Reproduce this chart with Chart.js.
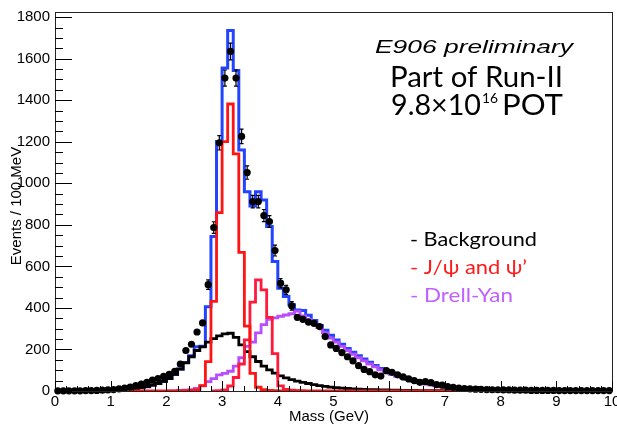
<!DOCTYPE html>
<html>
<head>
<meta charset="utf-8">
<script src="https://cdn.jsdelivr.net/npm/chart.js@4.4.1/dist/chart.umd.min.js"></script>
<style>
  html, body { margin: 0; padding: 0; background: #fff; }
</style>
</head>
<body>
<canvas id="mycanvas" width="617" height="426"></canvas>
<script>
// 100 MeV bins, 0 - 10 GeV; index i is the bin [i*0.1, (i+1)*0.1)
var binWidth = 0.1;
var massTicks = [0, 1, 2, 3, 4, 5, 6, 7, 8, 9, 10];
var eventTicks = [0, 200, 400, 600, 800, 1000, 1200, 1400, 1600, 1800];

var dataCounts = [
  1, 1, 1, 1, 1, 2, 2, 3, 4, 5,
  7, 10, 14, 19, 26, 33, 42, 52, 60, 70,
  80, 95, 130, 195, 225, 284, 328, 512, 787, 1195,
  1507, 1635, 1507, 1226, 1052, 912, 912, 845, 816, 676,
  519, 487, 410, 355, 345, 332, 326, 310, 262, 222,
  205, 185, 165, 145, 122, 104, 93, 78, 72, 98,
  90, 78, 68, 58, 50, 42, 45, 40, 31, 28,
  21, 17, 14, 12, 10, 9, 8, 7, 6, 6,
  5, 5, 4, 4, 4, 3, 3, 3, 3, 3,
  2, 2, 2, 2, 2, 2, 2, 2, 2, 2
];

var totalFit = [
  null, null, null, null, null, 1, 1, 2, 2, 3,
  4, 5, 7, 9, 12, 16, 21, 28, 36, 46,
  60, 80, 106, 137, 170, 213, 215, 406, 744, 1201,
  1555, 1736, 1543, 1161, 960, 891, 960, 920, 792, 623,
  495, 455, 415, 390, 388, 365, 340, 315, 292, 268,
  245, 225, 205, 187, 170, 154, 138, 123, 108, 96,
  85, 75, 66, 58, 51, 44, 38, 32, 27, 23,
  19, 16, 13, 11, 9, 8, 7, 6, 5, 4,
  3, 3, 3, 2, 2, 2, 2, 2, 2, 1,
  1, 1, 1, 1, 1, 1, 1, 1, 1, 1
];

var background = [
  null, null, null, null, null, 1, 1, 2, 2, 3,
  4, 5, 7, 9, 12, 16, 21, 28, 36, 46,
  60, 80, 105, 135, 165, 195, 212, 235, 252, 265,
  275, 278, 258, 222, 190, 165, 142, 120, 102, 86,
  73, 63, 55, 48, 42, 36, 31, 26, 22, 19,
  16, 14, 12, 10, 9, 8, 7, 6, 5, 5,
  4, 4, 3, 3, 3, 2, 2, 2, 2, 2,
  1, 1, 1, 1, 1, 1, 1, 1, 1, 1,
  1, 1, 1, 1, 1, 1, 1, 1, 1, 1,
  1, 1, 1, 1, 1, 1, 1, 1, 1, 1
];

var jpsi = [
  null, null, null, null, null, 1, 1, 1, 1, 1,
  1, 1, 1, 1, 1, 1, 1, 1, 1, 1,
  1, 1, 2, 2, 3, 5, 26, 141, 432, 859,
  1201, 1382, 1142, 668, 312, 85, 18, 6, 3, 2,
  1, 1, 1, 1, 1, 1, 1, 1, 1, 1,
  1, 1, 1, 1, 1, 1, 1, 1, 1, 1,
  1, 1, 1, 1, 1, 1, 1, 1, 1, 1,
  1, 1, 1, 1, 1, 1, 1, 1, 1, 1,
  1, 1, 1, 1, 1, 1, 1, 1, 1, 1,
  1, 1, 1, 1, 1, 1, 1, 1, 1, 1
];

var psiPrime = [
  null, null, null, null, null, null, null, null, null, null,
  null, null, null, null, null, null, null, null, null, null,
  null, null, null, null, null, null, null, null, 1, 2,
  5, 24, 65, 130, 246, 428, 535, 487, 355, 180,
  25, 8, 4, 2, 1, null, null, null, null, null,
  null, null, null, null, null, null, null, null, null, null,
  null, null, null, null, null, null, null, null, null, null,
  null, null, null, null, null, null, null, null, null, null,
  null, null, null, null, null, null, null, null, null, null,
  null, null, null, null, null, null, null, null, null, null
];

var drellYan = [
  null, null, null, null, null, null, null, null, null, null,
  null, null, null, null, null, null, null, null, null, null,
  0, 1, 2, 4, 7, 12, 25, 45, 60, 78,
  85, 95, 120, 160, 215, 235, 280, 320, 345, 352,
  360, 366, 372, 385, 362, 345, 325, 305, 280, 255,
  235, 215, 195, 177, 160, 145, 130, 116, 102, 90,
  80, 71, 63, 55, 48, 41, 35, 30, 25, 21,
  17, 14, 12, 10, 8, 7, 6, 5, 4, 3,
  3, 2, 2, 1, null, null, null, null, null, null,
  null, null, null, null, null, null, null, null, null, null
];

// histogram -> step points at bin low edges, plus the closing edge
function histPoints(vals) {
  var pts = [], last = -1;
  for (var i = 0; i < vals.length; i++) {
    pts.push({x: i * binWidth, y: vals[i]});
    if (vals[i] != null) last = i;
  }
  if (last >= 0) pts.splice(last + 1, 0, {x: (last + 1) * binWidth, y: vals[last]});
  return pts;
}

function centerPoints(vals) {
  var pts = [];
  for (var i = 0; i < vals.length; i++) {
    pts.push({x: (i + 0.5) * binWidth, y: vals[i]});
  }
  return pts;
}

function histSet(label, vals, color, width) {
  return {
    label: label,
    data: histPoints(vals),
    borderColor: color,
    borderWidth: width,
    stepped: 'before',
    fill: false,
    pointRadius: 0,
    borderJoinStyle: 'miter',
    spanGaps: false
  };
}

function fitText(ctx, txt, x, y, w) {
  var m = ctx.measureText(txt).width;
  ctx.save();
  ctx.translate(x, y);
  ctx.scale(w / m, 1);
  ctx.fillText(txt, 0, 0);
  ctx.restore();
}

var errBars = {
  id: 'errBars',
  afterDatasetsDraw: function(chart) {
    var ctx = chart.ctx, ys = chart.scales.y;
    var meta = chart.getDatasetMeta(0);
    ctx.save();
    ctx.strokeStyle = '#000';
    ctx.lineWidth = 1.2;
    ctx.beginPath();
    meta.data.forEach(function(pt, i) {
      var v = dataCounts[i];
      if (v == null) return;
      var e = Math.sqrt(v);
      var y1 = ys.getPixelForValue(v + e), y2 = ys.getPixelForValue(v - e);
      if (y2 - y1 < 8) return;
      ctx.moveTo(pt.x, y1); ctx.lineTo(pt.x, y2);
      ctx.moveTo(pt.x - 2, y1); ctx.lineTo(pt.x + 2, y1);
      ctx.moveTo(pt.x - 2, y2); ctx.lineTo(pt.x + 2, y2);
    });
    ctx.stroke();
    ctx.restore();
  }
};

var rootFrame = {
  id: 'rootFrame',
  afterDraw: function(chart) {
    var ctx = chart.ctx, a = chart.chartArea;
    var xs = chart.scales.x, ys = chart.scales.y;
    ctx.save();
    ctx.strokeStyle = '#222';
    ctx.lineWidth = 1;
    ctx.strokeRect(a.left + 0.5, a.top + 0.5, a.right - a.left, a.bottom - a.top);

    // inward ticks, ROOT style
    ctx.strokeStyle = '#000';
    ctx.beginPath();
    for (var v = 0; v <= ys.max; v += 50) {
      var py = Math.round(ys.getPixelForValue(v)) + 0.5;
      var len = (v % 200 === 0) ? 17 : 8;
      ctx.moveTo(a.left, py); ctx.lineTo(a.left + len, py);
    }
    for (var k = 0; k <= 50; k++) {
      var px = Math.round(xs.getPixelForValue(k * 0.2)) + 0.5;
      var l = (k % 5 === 0) ? 10 : 5;
      ctx.moveTo(px, a.bottom); ctx.lineTo(px, a.bottom - l);
    }
    ctx.stroke();

    // axis titles
    ctx.fillStyle = '#000';
    ctx.font = '15px "Liberation Sans", Arial, sans-serif';
    ctx.textAlign = 'center';
    ctx.textBaseline = 'alphabetic';
    ctx.fillText('Mass (GeV)', 329, 421);
    ctx.save();
    ctx.translate(21, 206);
    ctx.rotate(-Math.PI / 2);
    ctx.fillText('Events / 100 MeV', 0, 0);
    ctx.restore();

    // annotations
    ctx.textAlign = 'left';
    ctx.font = 'italic 18px "Liberation Sans", Arial, sans-serif';
    fitText(ctx, 'E906 preliminary', 375, 53, 198);

    ctx.font = '29px Lato, "Open Sans", sans-serif';
    fitText(ctx, 'Part of Run-II', 390, 87, 173);
    fitText(ctx, '9.8\u00d710', 391, 115, 90);
    ctx.font = '14px Lato, "Open Sans", sans-serif';
    fitText(ctx, '16', 482, 103, 16);
    ctx.font = '29px Lato, "Open Sans", sans-serif';
    fitText(ctx, 'POT', 502, 115, 61);

    ctx.font = '20px Lato, "Open Sans", sans-serif';
    ctx.fillStyle = '#000';
    fitText(ctx, '- Background', 410, 246, 127);
    ctx.fillStyle = '#ff1a1a';
    fitText(ctx, '- J/\u03c8 and \u03c8\u2019', 410, 274, 117);
    ctx.fillStyle = '#c061ff';
    fitText(ctx, '- Drell-Yan', 410, 302, 103);
    ctx.restore();
  }
};

function noPad(s) {
  s.paddingLeft = 0; s.paddingRight = 0;
  s.paddingTop = 0; s.paddingBottom = 0;
}

var ctx = document.getElementById('mycanvas');

var myChart = new Chart(ctx, {
  type: 'line',
  data: {
    datasets: [
      {
        label: 'data',
        data: centerPoints(dataCounts),
        showLine: false,
        pointRadius: 3.6,
        pointBackgroundColor: '#000',
        pointBorderWidth: 0,
        clip: false
      },
      histSet('J/psi', jpsi, '#ff1414', 2.8),
      histSet("psi'", psiPrime, '#ff1a3c', 2.8),
      histSet('Background', background, '#000', 2.8),
      histSet('Drell-Yan', drellYan, '#b84cff', 2.8),
      histSet('Total', totalFit, '#2244ff', 3)
    ]
  },
  options: {
    responsive: false,
    devicePixelRatio: 1,
    animation: false,
    layout: { padding: { top: 12, right: 5, left: 0, bottom: 0 }, autoPadding: false },
    plugins: { legend: { display: false }, tooltip: { enabled: false } },
    scales: {
      x: {
        type: 'linear',
        min: massTicks[0],
        max: massTicks[massTicks.length - 1],
        afterFit: function(s) { s.height = 35; noPad(s); },
        afterBuildTicks: function(s) { s.ticks = massTicks.map(function(v) { return {value: v}; }); },
        grid: { display: false, drawTicks: false },
        border: { display: false },
        ticks: {
          autoSkip: false, maxRotation: 0, padding: 2, color: '#000',
          callback: function(v) { return String(v); },
          font: { family: '"Liberation Sans", Arial, sans-serif', size: 15 }
        }
      },
      y: {
        min: 0,
        max: 1825,
        afterFit: function(s) { s.width = 55; noPad(s); },
        afterBuildTicks: function(s) { s.ticks = eventTicks.map(function(v) { return {value: v}; }); },
        grid: { display: false, drawTicks: false },
        border: { display: false },
        ticks: {
          autoSkip: false, padding: 5, color: '#000',
          callback: function(v) { return String(v); },
          font: { family: '"Liberation Sans", Arial, sans-serif', size: 15 }
        }
      }
    }
  },
  plugins: [errBars, rootFrame]
});
</script>
</body>
</html>
